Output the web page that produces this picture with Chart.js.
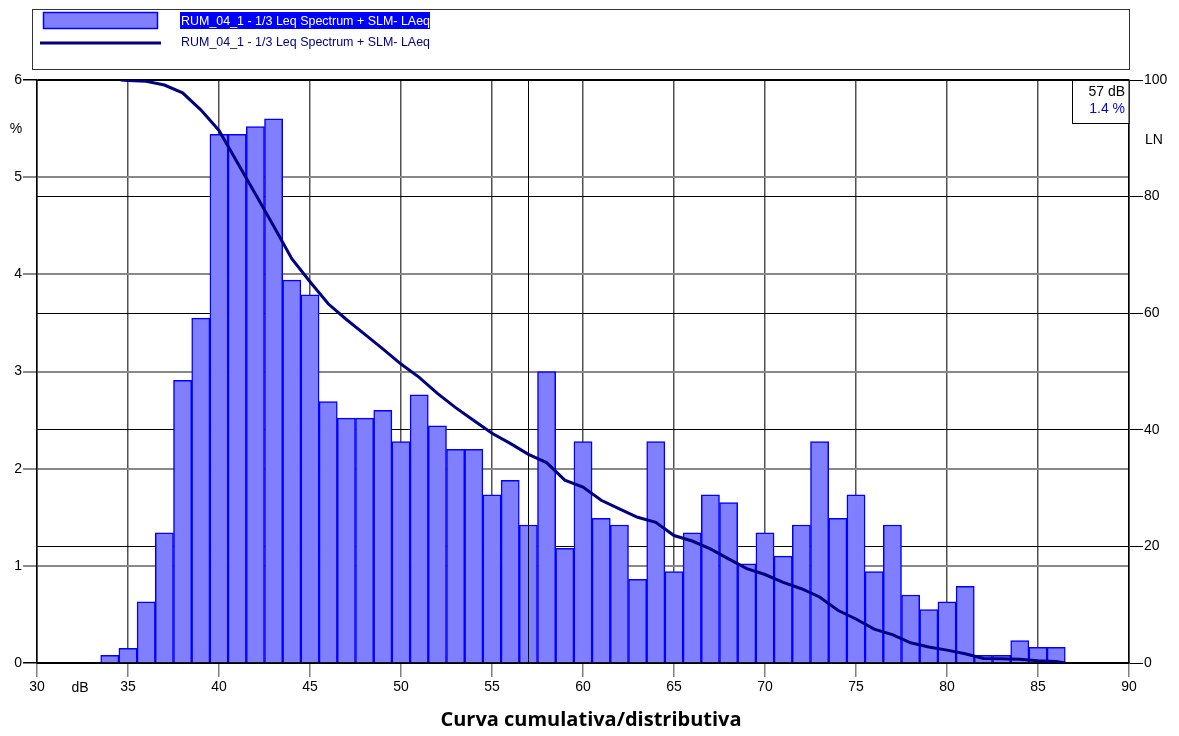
<!DOCTYPE html>
<html>
<head>
<meta charset="utf-8">
<script src="https://cdn.jsdelivr.net/npm/chart.js@4"></script>
<style>
  body { margin: 0; background: #fff; }
  #wrap { width: 1179px; height: 736px; }
</style>
</head>
<body>
<div id="wrap"><canvas id="grafico" width="1179" height="736"></canvas></div>
<script>
// livelli in dB (centro di ogni classe) e percentuale di tempo
let livelli = [34,35,36,37,38,39,40,41,42,43,44,45,46,47,48,49,50,51,52,53,54,55,56,57,58,59,60,
  61,62,63,64,65,66,67,68,69,70,71,72,73,74,75,76,77,78,79,80,81,82,83,84,85,86];
let percentuali = [0.08,0.15,0.63,1.34,2.91,3.55,5.44,5.44,5.52,5.6,3.94,3.79,2.69,2.52,2.52,2.6,2.28,
  2.76,2.44,2.2,2.2,1.73,1.88,1.42,3.0,1.18,2.28,1.49,1.42,0.86,2.28,0.94,1.34,1.73,1.65,1.02,1.34,
  1.1,1.42,2.28,1.49,1.73,0.94,1.42,0.7,0.55,0.63,0.79,0.08,0.08,0.23,0.16,0.16];
// curva cumulativa LN
let lnX = [34.6,35,36,37,38,39,40,41,42,43,44,45,46,47,48,49,50,51,52,53,54,55,56,57,58,59,60,
  61,62,63,64,65,66,67,68,69,70,71,72,73,74,75,76,77,78,79,80,81,82,83,84,85,86,86.5];
let lnY = [100,99.9,99.77,99.14,97.8,94.89,91.34,85.9,80.46,74.94,69.34,65.4,61.61,58.92,56.4,53.88,
  51.28,49.0,46.24,43.8,41.6,39.4,37.67,35.79,34.37,31.37,30.19,27.91,26.42,25.0,24.14,21.86,20.92,
  19.58,17.85,16.2,15.18,13.84,12.74,11.32,9.04,7.55,5.82,4.88,3.46,2.76,2.21,1.58,0.79,0.71,0.63,
  0.40,0.24,0];
let etichetta = 'RUM_04_1 - 1/3 Leq Spectrum + SLM- LAeq';
let cursoreDb = 57;
let cursorePct = 1.4;
let titolo = 'Curva cumulativa/distributiva';

const fontTxt = 'Liberation Sans, Arial, sans-serif';

const extra = {
  id: 'extra',
  afterDatasetDraw(chart, args) {
    if (args.meta.type !== 'bar') return;
    const c = chart.ctx, a = chart.chartArea;
    const x = Math.round(chart.scales.x.getPixelForValue(cursoreDb)) + 0.5;
    c.save();
    c.strokeStyle = '#000';
    c.lineWidth = 1;
    c.beginPath(); c.moveTo(x, a.top); c.lineTo(x, a.bottom); c.stroke();
    c.restore();
  },
  afterDraw(chart) {
    const c = chart.ctx, a = chart.chartArea;
    c.save();
    // riquadro legenda
    c.fillStyle = '#fff';
    c.fillRect(32, 9, 1098, 61);
    c.strokeStyle = '#333';
    c.lineWidth = 1;
    c.strokeRect(32.5, 9.5, 1097, 60);
    c.fillStyle = '#8080ff';
    c.fillRect(43, 12, 115, 17);
    c.strokeStyle = '#0000ff';
    c.lineWidth = 1.5;
    c.strokeRect(43.5, 12.5, 114, 16);
    c.strokeStyle = '#000080';
    c.lineWidth = 3;
    c.beginPath(); c.moveTo(40, 43); c.lineTo(161, 43); c.stroke();

    c.font = '13.5px ' + fontTxt;
    c.textBaseline = 'middle';
    c.textAlign = 'left';
    const sx = 249 / c.measureText(etichetta).width;
    c.fillStyle = '#0000ff';
    c.fillRect(180, 12, 250, 17);
    c.save();
    c.translate(181, 0);
    c.scale(sx, 1);
    c.fillStyle = '#fff';
    c.fillText(etichetta, 0, 21);
    c.fillStyle = '#000080';
    c.fillText(etichetta, 0, 42);
    c.restore();

    // riquadro cursore
    c.fillStyle = '#fff';
    c.fillRect(1072, a.top, a.right - 1072, 44);
    c.strokeStyle = '#000';
    c.lineWidth = 1;
    c.strokeRect(1072.5, a.top + 0.5, a.right - 1072.5, 43);
    c.font = '14px ' + fontTxt;
    c.textAlign = 'right';
    c.fillStyle = '#000';
    c.fillText(cursoreDb + ' dB', 1125, 92);
    c.fillStyle = '#0000ff';
    c.fillText(cursorePct + ' %', 1125, 109);

    // unita
    c.fillStyle = '#000';
    c.textAlign = 'center';
    c.fillText('%', 16, 129);
    c.fillText('dB', 80, 688);
    c.textAlign = 'left';
    c.fillText('LN', 1145, 140);

    // titolo
    c.font = 'bold 20px "Open Sans", sans-serif';
    c.textAlign = 'center';
    c.fillText(titolo, 591, 720);
    c.restore();
  }
};

const graf = document.getElementById('grafico').getContext('2d');
const grafico = new Chart(graf, {
  type: 'bar',
  data: {
    datasets: [{
      type: 'line',
      label: etichetta,
      data: lnX.map((v, i) => ({ x: v, y: lnY[i] })),
      borderColor: '#000080',
      borderWidth: 3,
      pointRadius: 0,
      tension: 0,
      yAxisID: 'y2',
      order: 1
    }, {
      type: 'bar',
      label: etichetta,
      data: livelli.map((v, i) => ({ x: v, y: percentuali[i] })),
      backgroundColor: '#8080ff',
      borderColor: '#0000ff',
      borderWidth: 1.5,
      barPercentage: 1,
      categoryPercentage: 1,
      yAxisID: 'y',
      order: 2
    }]
  },
  options: {
    responsive: false,
    animation: false,
    layout: { padding: { top: 80, left: 0, right: 0, bottom: 0 } },
    plugins: { legend: { display: false }, tooltip: { enabled: false } },
    scales: {
      x: {
        type: 'linear',
        offset: false,
        min: 30, max: 90,
        ticks: { stepSize: 5, color: '#000', font: { size: 14, family: fontTxt }, padding: 2, maxRotation: 0 },
        grid: {
          offset: false,
          color: '#505050',
          lineWidth: 1.5,
          tickLength: 14,
          tickColor: '#808080'
        },
        border: { color: '#000', width: 1.5 },
        afterFit(s) { s.height = 73; }
      },
      y: {
        position: 'left',
        min: 0, max: 6,
        ticks: { stepSize: 1, color: '#000', font: { size: 14, family: fontTxt }, padding: 1 },
        grid: {
          color: ctx => (ctx.tick && (ctx.tick.value === 6 || ctx.tick.value === 0)) ? '#000' : '#888',
          lineWidth: ctx => (ctx.tick && (ctx.tick.value === 6 || ctx.tick.value === 0)) ? 1.5 : 2,
          tickLength: 14
        },
        border: { color: '#000', width: 1.5 },
        afterFit(s) { s.width = 37; }
      },
      y2: {
        position: 'right',
        min: 0, max: 100,
        ticks: { stepSize: 20, color: '#000', font: { size: 14, family: fontTxt }, padding: 1 },
        grid: {
          color: '#000',
          lineWidth: 1,
          tickLength: 14
        },
        border: { color: '#000', width: 1.5 },
        afterFit(s) { s.width = 50; }
      }
    }
  },
  plugins: [extra]
});
</script>
</body>
</html>
